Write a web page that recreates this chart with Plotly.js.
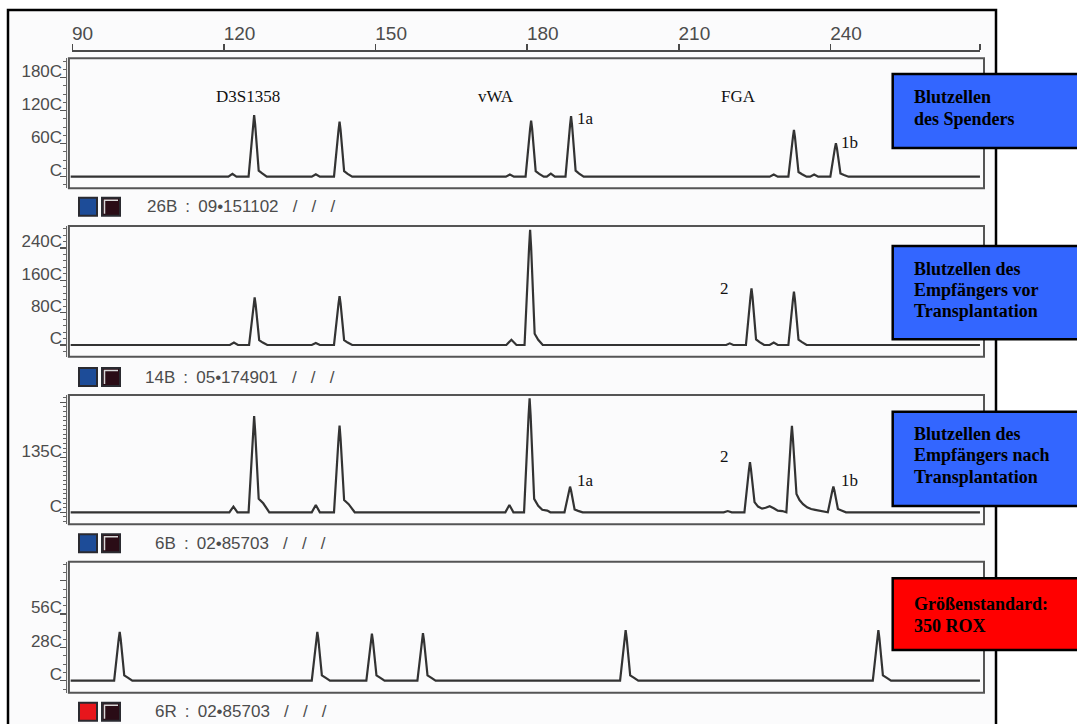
<!DOCTYPE html>
<html><head><meta charset="utf-8">
<script src="https://cdn.plot.ly/plotly-3.0.1.min.js"></script>
<style>html,body{margin:0;padding:0;background:#fff;} #plot{width:1077px;height:724px;}</style>
</head><body><div id="plot"></div>
<script>
// ---- data (fragment size in bp, signal height in RFU) ----
const topTickVals = [90, 120, 150, 180, 210, 240];
const topTickText = ['90', '120', '150', '180', '210', '240'];

// Panel 1: Blutzellen des Spenders
const p1x = [89.7, 120.9,121.7,122.5, 124.9,125.8,126.0,126.2,126.9,127.6,128.5, 137.4,138.2,139.0, 141.8,142.7,142.9,143.1,143.8,144.5,145.4, 175.8,176.6,177.4, 179.7,180.6,180.8,181.0,181.7,182.4,183.3, 183.9,184.7,185.5, 187.6,188.5,188.7,188.9,189.6,190.3,191.2, 228.0,228.8,229.6, 231.7,232.6,232.8,233.0,233.7,234.4,235.3, 236.0,236.8,237.6, 240.0,240.9,241.1,241.3,242.0,242.7,243.6, 269.6];
const p1y = [0, 0,50,0, 0,950,1120,950,110,60,0, 0,45,0, 0,850,1000,850,100,50,0, 0,40,0, 0,870,1020,870,100,50,0, 0,55,0, 0,935,1100,935,110,55,0, 0,40,0, 0,720,850,720,85,45,0, 0,40,0, 0,520,610,520,60,30,0, 0];
const p1TickVals = [0, 600, 1200, 1800];
const p1TickText = ['C', '60C', '120C', '180C'];

// Panel 2: Empfänger vor Transplantation
const p2x = [89.7, 121.2,122.0,122.8, 125.0,125.9,126.1,126.3,127.0,127.7,128.6, 137.4,138.2,139.0, 141.8,142.7,142.9,143.1,143.8,144.5,145.4, 175.9,176.9,177.9, 179.5,180.4,180.6,180.8,181.5,182.2,183.1, 219.4,220.1,220.8, 223.3,224.2,224.4,224.6,225.3,226.0,226.9, 228.0,228.8,229.6, 231.7,232.6,232.8,233.0,233.7,234.4,235.3, 269.6];
const p2y = [0, 0,60,0, 0,1000,1180,1000,120,60,0, 0,50,0, 0,1030,1210,1030,120,60,0, 0,130,0, 0,2420,2850,2420,280,130,0, 0,40,0, 0,1190,1400,1190,140,70,0, 0,60,0, 0,1120,1320,1120,130,70,0, 0];
const p2TickVals = [0, 800, 1600, 2400];
const p2TickText = ['C', '80C', '160C', '240C'];

// Panel 3: Empfänger nach Transplantation
const p3x = [89.7, 121.1,121.9,122.7, 124.9,125.8,126.0,126.2,126.9,127.8,129.0, 137.4,138.2,139.0, 141.8,142.7,142.9,143.1,143.8,144.7,145.9, 175.7,176.5,177.3, 179.4,180.3,180.5,180.7,181.4,182.2,183.0,184.0,184.6, 187.4,188.3,188.5,188.7,189.4,190.1,191.0, 218.9,219.7,220.5, 223.0,223.9,224.1,224.3,225.0,225.7,226.5,227.2,228.0,228.8,229.6,230.5, 231.3,232.2,232.4,232.6,233.3,233.9,234.6,235.4,236.2,237.0,237.8,238.6, 239.5,240.4,240.6,240.8,241.5,242.2,243.1, 269.6];
const p3y = [0, 0,140,0, 0,2000,2360,2000,330,220,0, 0,180,0, 0,1810,2130,1810,300,200,0, 0,180,0, 0,2380,2800,2380,330,160,60,40,0, 0,535,630,535,70,35,0, 0,30,0, 0,1045,1230,1045,250,140,90,110,150,100,40,30, 0,1800,2120,1800,450,300,200,120,80,60,40,20, 0,535,630,535,80,45,0, 0];
const p3TickVals = [0, 1350, 2700];
const p3TickText = ['C', '135C', ''];

// Panel 4: Größenstandard 350 ROX
const p4x = [89.7, 98.3,99.2,99.4,99.6,100.3,101.0,101.9, 137.4,138.3,138.5,138.7,139.4,140.1,141.0, 148.2,149.1,149.3,149.5,150.2,150.9,151.8, 158.3,159.2,159.4,159.6,160.3,161.0,161.9, 198.4,199.3,199.5,199.7,200.4,201.1,202.0, 248.4,249.3,249.5,249.7,250.4,251.1,252.0, 269.6];
const p4y = [0, 0,350,410,350,45,25,0, 0,350,410,350,45,25,0, 0,335,395,335,45,25,0, 0,340,400,340,45,25,0, 0,360,425,360,45,25,0, 0,360,425,360,45,25,0, 0];
const p4TickVals = [0, 280, 560, 840];
const p4TickText = ['C', '28C', '56C', ''];

const NB = '\u00a0', TH = '\u2009';
const sep = NB + NB + NB + '/';
const colon = NB + TH + ':' + NB + TH;
const sampleNames = ['26B' + colon + '09\u2022151102' + sep + sep + sep,
                     '14B' + colon + '05\u2022174901' + sep + sep + sep,
                     '6B' + colon + '02\u202285703' + sep + sep + sep,
                     '6R' + colon + '02\u202285703' + sep + sep + sep];
const boxLines = [['Blutzellen', 'des Spenders'],
                  ['Blutzellen des', 'Empfängers vor', 'Transplantation'],
                  ['Blutzellen des', 'Empfängers nach', 'Transplantation'],
                  ['Größenstandard:', '350 ROX']];

// ---- layout helpers (pixel -> paper) ----
const W = 1077, H = 724;
const fx = v => v / W;
const fy = v => 1 - v / H;

const panels = [ // box top/bottom in px, y range
  {top: 58.3, bot: 188.3, range: [-211, 2153], minor: 150, tv: p1TickVals, tt: p1TickText},
  {top: 226, bot: 356.7, range: [-290, 2946], minor: 160, tv: p2TickVals, tt: p2TickText},
  {top: 395, bot: 524.3, range: [-295, 2879], minor: 112.5, tv: p3TickVals, tt: p3TickText},
  {top: 561.7, bot: 692.7, range: [-101, 1000], minor: 70, tv: p4TickVals, tt: p4TickText}
];
const xs = [p1x, p2x, p3x, p4x];
const ys = [p1y, p2y, p3y, p4y];

const sans = 'Liberation Sans, Arial, sans-serif';
const tickFont = {family: sans, size: 17, color: '#4c4c4c'};
const serif = 'Liberation Serif, Times New Roman, serif';

const traces = [];
const layout = {
  width: W, height: H,
  margin: {l: 0, r: 0, t: 0, b: 0},
  paper_bgcolor: '#ffffff', plot_bgcolor: 'rgba(0,0,0,0)',
  showlegend: false,
  shapes: [], annotations: []
};

// frame
layout.shapes.push({type: 'rect', xref: 'paper', yref: 'paper', x0: fx(8), x1: fx(996), y0: -0.05, y1: fy(10),
  line: {color: '#000', width: 2.5}, fillcolor: '#fbfbfc', layer: 'below'});

panels.forEach((p, i) => {
  const n = i === 0 ? '' : String(i + 1);
  traces.push({type: 'scatter', mode: 'lines', x: xs[i], y: ys[i], xaxis: 'x' + n, yaxis: 'y' + n,
    line: {color: '#333333', width: 2.2}, hoverinfo: 'skip'});
  layout['xaxis' + n] = {domain: [fx(68.9), fx(984)], range: [89.35, 270.4], anchor: 'y' + n, visible: false, fixedrange: true};
  layout['yaxis' + n] = {domain: [fy(p.bot), fy(p.top)], range: p.range, anchor: 'free', position: fx(65.5),
    showline: true, linecolor: '#666', linewidth: 1, ticks: 'outside', ticklen: 6, tickwidth: 1.5, tickcolor: '#555',
    tickvals: p.tv, ticktext: p.tt, ticklabelposition: 'outside top', ticklabelshift: 6, tickfont: tickFont,
    minor: {ticks: 'outside', ticklen: 3, tickwidth: 1, tickcolor: '#666', dtick: p.minor, tick0: 0},
    showgrid: false, zeroline: false, fixedrange: true};
  layout.shapes.push({type: 'rect', xref: 'paper', yref: 'paper', x0: fx(68.9), x1: fx(984), y0: fy(p.bot), y1: fy(p.top),
    line: {color: '#555555', width: 2}, layer: 'below'});
});

// top bp axis
traces.push({type: 'scatter', mode: 'lines', x: [90], y: [null], xaxis: 'x5', yaxis: 'y', hoverinfo: 'skip'});
layout.xaxis5 = {domain: [fx(72.3), fx(980)], range: [90, 269.6], anchor: 'free', position: fy(50.5), side: 'top',
  showline: true, linecolor: '#4a4a4a', linewidth: 2, ticks: 'outside', ticklen: 6, tickwidth: 1.5, tickcolor: '#4a4a4a',
  tickvals: topTickVals.concat([269.6]), ticktext: topTickText.concat(['']), ticklabelposition: 'outside right',
  ticklabelstandoff: 2, ticklabelshift: -2,
  tickfont: {family: sans, size: 19, color: '#4c4c4c'},
  showgrid: false, zeroline: false, fixedrange: true};

// sample labels with colour squares
const labelY = [206.7, 377, 543.3, 711.7];
const labelX = [144.6, 143, 153, 153];
const sqColor = ['#1d4c98', '#1d4c98', '#1d4c98', '#e8161c'];
labelY.forEach((y, i) => {
  const t = y - 9, b = y + 9;
  layout.shapes.push({type: 'rect', xref: 'paper', yref: 'paper', x0: fx(79), x1: fx(97), y0: fy(b), y1: fy(t),
    fillcolor: sqColor[i], line: {color: '#2a2a30', width: 2}, layer: 'above'});
  layout.shapes.push({type: 'rect', xref: 'paper', yref: 'paper', x0: fx(102), x1: fx(120), y0: fy(b), y1: fy(t),
    fillcolor: '#2a0c16', line: {color: '#2a2a30', width: 2}, layer: 'above'});
  layout.shapes.push({type: 'path', xref: 'paper', yref: 'paper',
    path: `M ${fx(104.5)} ${fy(b - 2)} L ${fx(104.5)} ${fy(t + 2.5)} L ${fx(118)} ${fy(t + 2.5)}`,
    line: {color: '#d8d8d8', width: 1.5}, layer: 'above'});
  layout.annotations.push({xref: 'paper', yref: 'paper', x: fx(labelX[i]), y: fy(y), xanchor: 'left', yanchor: 'middle',
    text: sampleNames[i], showarrow: false, font: {family: sans, size: 17, color: '#4c4c4c'}});
});

// coloured legend boxes
const boxes = [
  {t: 74, b: 148, c: '#3366ff', ly: [97.3, 119.3]},
  {t: 246, b: 339.3, c: '#3366ff', ly: [269, 290, 311]},
  {t: 411.7, b: 506, c: '#3366ff', ly: [433.5, 455, 476.5]},
  {t: 578.3, b: 650, c: '#ff0000', ly: [604, 626]}
];
boxes.forEach((bx, i) => {
  layout.shapes.push({type: 'rect', xref: 'paper', yref: 'paper', x0: fx(892.7), x1: 1.02, y0: fy(bx.b), y1: fy(bx.t),
    fillcolor: bx.c, line: {color: '#000', width: 2.5}, layer: 'above'});
  boxLines[i].forEach((line, j) => {
    layout.annotations.push({xref: 'paper', yref: 'paper', x: fx(912), y: fy(bx.ly[j]), xanchor: 'left', yanchor: 'middle',
      align: 'left', text: '<b>' + line + '</b>', showarrow: false,
      font: {family: serif, size: 18, color: '#000'}});
  });
});

// peak / locus labels
const peakLabels = [
  ['D3S1358', 248, 96.7], ['vWA', 496, 96.5], ['FGA', 738, 96.7], ['1a', 585, 119], ['1b', 849, 143],
  ['2', 724, 289], ['2', 724, 456.7], ['1a', 585, 480], ['1b', 849, 480]
];
peakLabels.forEach(([t, x, y]) => {
  layout.annotations.push({xref: 'paper', yref: 'paper', x: fx(x), y: fy(y), xanchor: 'center', yanchor: 'middle',
    text: t, showarrow: false, font: {family: serif, size: 17, color: '#111'}});
});

Plotly.newPlot('plot', traces, layout, {displayModeBar: false, staticPlot: true});
</script>
</body></html>
